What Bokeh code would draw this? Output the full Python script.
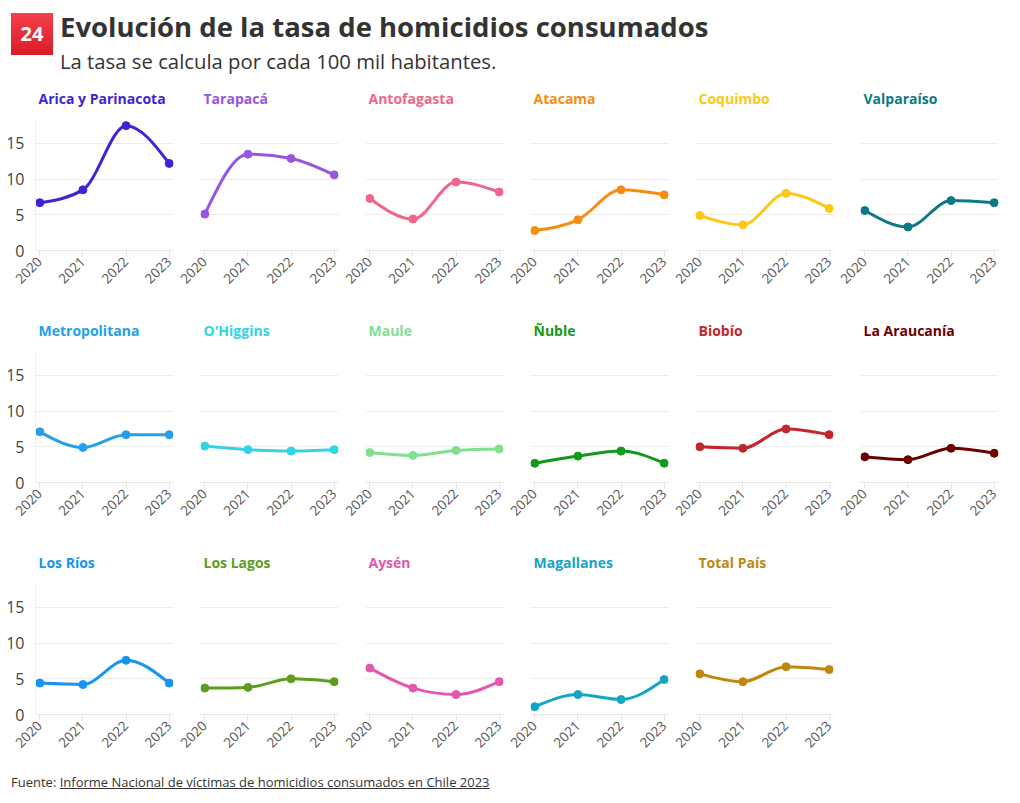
import numpy as np
from bokeh.plotting import figure
from bokeh.layouts import gridplot, column, row
from bokeh.models import Div, Range1d, FixedTicker, Spacer
from bokeh.embed import file_html
from bokeh.resources import INLINE

FONT = "Open Sans"

years = [2020, 2021, 2022, 2023]
year_labels = ["2020", "2021", "2022", "2023"]
y_ticks = [0, 5, 10, 15]

regions = ["Arica y Parinacota", "Tarapacá", "Antofagasta", "Atacama", "Coquimbo",
           "Valparaíso", "Metropolitana", "O'Higgins", "Maule", "Ñuble", "Biobío",
           "La Araucanía", "Los Ríos", "Los Lagos", "Aysén", "Magallanes", "Total País"]

colors = ["#3f24d6", "#9656df", "#f0668a", "#f68d10", "#fbc816", "#0b7a85",
          "#23a0e6", "#33d3e6", "#80e08f", "#11991a", "#c0282c", "#6b0000",
          "#1595f0", "#5e9c1f", "#e457ad", "#12a5c4", "#c1860f"]

arica = [6.7, 8.5, 17.5, 12.2]
tarapaca = [5.1, 13.5, 12.9, 10.6]
antofagasta = [7.3, 4.4, 9.6, 8.2]
atacama = [2.8, 4.3, 8.5, 7.8]
coquimbo = [4.9, 3.6, 8.0, 5.9]
valparaiso = [5.6, 3.3, 7.0, 6.7]
metropolitana = [7.1, 4.9, 6.7, 6.7]
ohiggins = [5.1, 4.6, 4.4, 4.6]
maule = [4.2, 3.8, 4.5, 4.7]
nuble = [2.7, 3.7, 4.4, 2.7]
biobio = [5.0, 4.8, 7.5, 6.7]
araucania = [3.6, 3.2, 4.8, 4.1]
los_rios = [4.4, 4.2, 7.6, 4.4]
los_lagos = [3.7, 3.8, 5.0, 4.6]
aysen = [6.5, 3.7, 2.8, 4.6]
magallanes = [1.1, 2.8, 2.1, 4.9]
total_pais = [5.7, 4.6, 6.7, 6.3]

series = [arica, tarapaca, antofagasta, atacama, coquimbo, valparaiso,
          metropolitana, ohiggins, maule, nuble, biobio, araucania,
          los_rios, los_lagos, aysen, magallanes, total_pais]


def monotone_tangents(x, y):
    x = np.asarray(x, float); y = np.asarray(y, float)
    n = len(x)
    t = np.zeros(n)
    h = np.diff(x); s = np.diff(y) / h
    for i in range(1, n - 1):
        h0, h1, s0, s1 = h[i - 1], h[i], s[i - 1], s[i]
        pp = (s0 * h1 + s1 * h0) / (h0 + h1)
        t[i] = (np.sign(s0) + np.sign(s1)) * min(abs(s0), abs(s1), 0.5 * abs(pp))
    t[0] = (3 * s[0] - t[1]) / 2
    t[-1] = (3 * s[-1] - t[-2]) / 2
    return t


def make_panel(name, vals, color, col, last_row):
    p = figure(frame_width=138, frame_height=132, min_border_left=24, min_border_right=3,
               min_border_top=40, min_border_bottom=53 if last_row else 58,
               x_range=Range1d(2019.9, 2023.1), y_range=Range1d(0, 18.5),
               toolbar_location=None, output_backend="svg", title=name)
    p.outline_line_color = None
    p.background_fill_color = "white"
    p.border_fill_color = "white"
    p.title.text_color = color
    p.title.text_font = FONT
    p.title.text_font_size = "14px"
    p.title.text_font_style = "bold"
    p.title.align = "left"
    p.title.offset = 3
    p.title.standoff = 21

    p.xaxis.ticker = FixedTicker(ticks=years)
    p.xaxis.major_label_overrides = {yy: lab for yy, lab in zip(years, year_labels)}
    p.xaxis.major_label_orientation = np.pi / 4
    p.xaxis.axis_line_color = "#e6e6e6"
    p.xaxis.major_tick_line_color = "#e6e6e6"
    p.xaxis.major_tick_out = 6
    p.xaxis.major_tick_in = 0
    p.xaxis.minor_tick_line_color = None
    p.xaxis.major_label_text_font = FONT
    p.xaxis.major_label_text_font_size = "13.5px"
    p.xaxis.major_label_text_color = "#555555"
    p.xaxis.major_label_standoff = 3

    p.yaxis.ticker = FixedTicker(ticks=y_ticks)
    p.ygrid.ticker = FixedTicker(ticks=y_ticks)
    p.xgrid.visible = False
    p.ygrid.grid_line_color = "#ececec"
    p.yaxis.major_tick_line_color = None
    p.yaxis.minor_tick_line_color = None
    p.yaxis.axis_line_color = "#f0f0f0"
    p.yaxis.major_label_text_font = FONT
    p.yaxis.major_label_text_font_size = "16px"
    p.yaxis.major_label_text_color = "#444444"
    p.yaxis.major_label_standoff = 5
    if col != 0:
        p.yaxis.visible = False

    t = monotone_tangents(years, vals)
    x0 = np.array(years[:-1], float); x1 = np.array(years[1:], float)
    y0 = np.array(vals[:-1], float); y1 = np.array(vals[1:], float)
    dx = (x1 - x0) / 3
    p.bezier(x0=x0, y0=y0, x1=x1, y1=y1,
             cx0=x0 + dx, cy0=y0 + dx * t[:-1], cx1=x1 - dx, cy1=y1 - dx * t[1:],
             line_color=color, line_width=3)
    p.scatter(years, vals, size=8, fill_color=color, line_color=color)
    return p


panels = []
for i, (name, vals, color) in enumerate(zip(regions, series, colors)):
    panels.append(make_panel(name, vals, color, i % 6, i >= 12))

rows = [panels[0:6], panels[6:12], panels[12:17] + [None]]
grid = gridplot(rows, toolbar_location=None)

header_html = f"""
<div style="position:relative;width:1000px;height:66px;font-family:'{FONT}';color:#333;">
  <div style="position:absolute;left:3px;top:8px;width:42px;height:42px;
       background:linear-gradient(180deg,#f2414b,#d91c28);color:#fff;font-weight:700;
       font-size:20px;line-height:42px;text-align:center;">24</div>
  <div style="position:absolute;left:52px;top:4px;font-size:27.5px;font-weight:700;
       line-height:36px;white-space:nowrap;">Evolución de la tasa de homicidios consumados</div>
  <div style="position:absolute;left:52px;top:47px;font-size:20.3px;line-height:18px;
       white-space:nowrap;">La tasa se calcula por cada 100 mil habitantes.</div>
</div>
"""
header = Div(text=header_html, width=1000, height=66)

footer_html = f"""
<div style="font-family:'{FONT}';font-size:13px;color:#333;padding-left:3px;white-space:nowrap;line-height:20px;">
Fuente: <span style="text-decoration:underline;">Informe Nacional de víctimas de homicidios consumados en Chile 2023</span>
</div>
"""
footer = Div(text=footer_html, width=1000, height=20)

layout = row(Spacer(width=3), column(header, grid, footer, spacing=0), spacing=0)

with open("out.html", "w") as f:
    f.write(file_html(layout, INLINE))
